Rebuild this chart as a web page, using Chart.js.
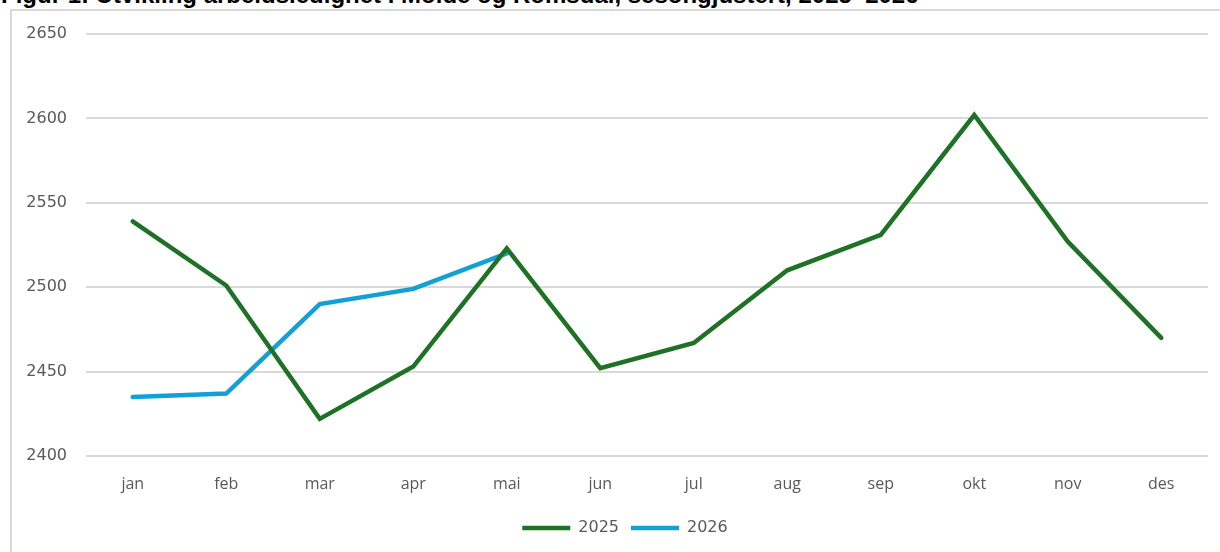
<!DOCTYPE html>
<html>
<head>
<meta charset="utf-8">
<script src="https://cdn.jsdelivr.net/npm/chart.js@4"></script>
<style>
  html, body { margin: 0; padding: 0; background: #fff; overflow: hidden; }
  #wrap { position: relative; width: 1220px; height: 552px; }
  #title {
    position: absolute; left: 1px; top: -19px; white-space: nowrap;
    font: bold 24px "Liberation Sans", Arial, sans-serif; color: #000;
  }
  #frame {
    position: absolute; left: 10px; top: 9px; width: 1300px; height: 600px;
    border-left: 2px solid #d9d9d9; border-top: 2px solid #d9d9d9;
  }
  #holder { position: absolute; left: 0; top: 0; width: 1220px; height: 552px; }
</style>
</head>
<body>
<div id="wrap">
  <div id="title">Figur 1: Utvikling arbeidsledighet i Molde og Romsdal, sesongjustert, 2025–2026</div>
  <div id="frame"></div>
  <div id="holder"><canvas id="canvas"></canvas></div>
</div>
<script>
let months = ['jan', 'feb', 'mar', 'apr', 'mai', 'jun', 'jul', 'aug', 'sep', 'okt', 'nov', 'des'];
let values2025 = [2539, 2501, 2422, 2453, 2523, 2452, 2467, 2510, 2531, 2602, 2527, 2470];
let values2026 = [2435, 2437, 2490, 2499, 2520];

let axisFont = { family: '"DejaVu Sans", sans-serif', size: 16 };

// nudge the legend a bit to the right, like in the original
let legendShift = {
  id: 'legendShift',
  afterLayout: function(chart) {
    chart.legend.left += 22;
  }
};

let options = {
  type: 'line',
  data: {
    labels: months,
    datasets: [{
      label: '2025',
      data: values2025,
      borderColor: '#1e7125',
      backgroundColor: '#1e7125',
      borderWidth: 4.5,
      borderCapStyle: 'round',
      pointRadius: 0,
      tension: 0
    }, {
      label: '2026',
      data: values2026,
      borderColor: '#12a0d7',
      backgroundColor: '#12a0d7',
      borderWidth: 4.5,
      borderCapStyle: 'round',
      pointRadius: 0,
      tension: 0
    }]
  },
  options: {
    responsive: true,
    maintainAspectRatio: false,
    animation: false,
    layout: { padding: { left: 20, top: 34, right: 12, bottom: 6 } },
    scales: {
      x: {
        offset: true,
        grid: { display: false, drawTicks: false },
        border: { display: false },
        ticks: {
          color: '#595959', padding: 19,
          font: { family: '"Open Sans", sans-serif', size: 16 }
        },
        afterFit: function(scale) { scale.height = 52; }
      },
      y: {
        min: 2400, max: 2650,
        grid: { color: '#d9d9d9', lineWidth: 2, drawTicks: false },
        border: { display: false },
        ticks: {
          stepSize: 50, color: '#595959', padding: 19, font: axisFont,
          callback: function(v) { return String(v); }
        },
        afterFit: function(scale) { scale.width = 66; }
      }
    },
    plugins: {
      title: { display: false },
      tooltip: { enabled: false },
      legend: {
        position: 'bottom',
        labels: {
          usePointStyle: true,
          pointStyle: 'line',
          pointStyleWidth: 48,
          padding: 12,
          color: '#595959',
          font: axisFont
        }
      }
    }
  },
  plugins: [legendShift]
};

let chart = new Chart(document.getElementById('canvas'), options);
</script>
</body>
</html>
